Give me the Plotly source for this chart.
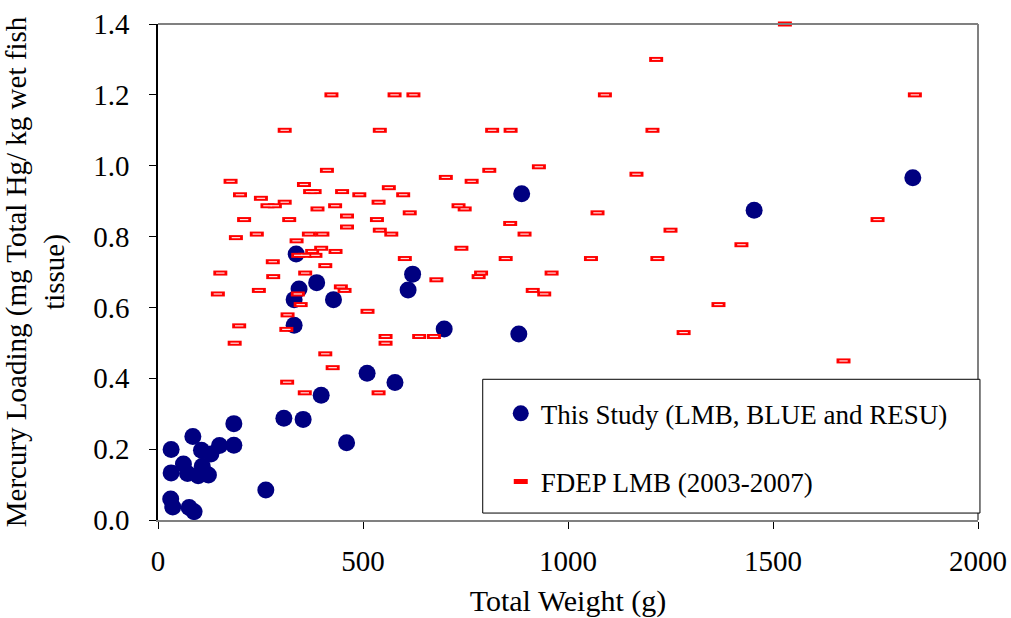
import plotly.graph_objects as go

# ---- Data: This Study (LMB, BLUE and RESU) ----
study_weight = [337, 621, 610, 387, 344, 332, 428, 332, 510, 578, 398, 307, 354, 460,
                185, 185, 85, 32, 150, 106, 129, 32, 62, 72, 98, 108, 123, 263,
                31, 36, 76, 88, 698, 880, 887, 1454, 1841]
study_hg = [0.751, 0.694, 0.649, 0.670, 0.652, 0.622, 0.622, 0.550, 0.414, 0.388, 0.352,
            0.287, 0.284, 0.218, 0.272, 0.211, 0.236, 0.199, 0.210, 0.197, 0.186, 0.133,
            0.158, 0.131, 0.125, 0.152, 0.127, 0.085, 0.059, 0.037, 0.035, 0.023, 0.539,
            0.525, 0.921, 0.874, 0.966]

# ---- Data: FDEP LMB (2003-2007) ----
fdep_weight = [423, 577, 623, 309, 541, 412, 177, 356, 371, 382, 449, 491, 563, 598, 200,
               251, 267, 285, 309, 389, 432, 538, 461, 534, 614, 210, 320, 461, 541, 569,
               241, 368, 401, 190, 338, 398, 376, 433, 342, 359, 384, 280, 408, 602,
               152, 281, 359, 146, 246, 446, 455, 341, 348, 511, 316, 198, 313, 187, 555,
               555, 637, 673, 408, 426, 315, 358, 538,
               679, 782, 788, 960, 914, 942, 1282,
               1215, 1090, 815, 860, 1206, 929, 808, 702, 765, 1167, 733, 748, 1072, 859,
               894, 1250, 740, 848, 1056, 1218,
               1529, 1846, 1755, 1423, 1367, 1672]
fdep_hg = [1.20, 1.20, 1.20, 1.10, 1.10, 0.987, 0.956, 0.947, 0.927, 0.927, 0.927, 0.918,
           0.938, 0.918, 0.918, 0.908, 0.887, 0.887, 0.897, 0.878, 0.887, 0.897, 0.858,
           0.848, 0.867, 0.848, 0.848, 0.827, 0.818, 0.807, 0.807, 0.807, 0.807, 0.797,
           0.788, 0.767, 0.758, 0.758, 0.747, 0.747, 0.747, 0.729, 0.718, 0.738,
           0.697, 0.687, 0.697, 0.638, 0.648, 0.658, 0.648, 0.638, 0.608, 0.589, 0.579,
           0.548, 0.538, 0.499, 0.518, 0.499, 0.518, 0.518, 0.469, 0.430, 0.389, 0.359,
           0.359,
           0.678, 0.687, 0.697, 0.697, 0.648, 0.638, 0.529,
           1.30, 1.20, 1.10, 1.10, 1.10, 0.997, 0.987, 0.967, 0.956, 0.976, 0.887, 0.878,
           0.867, 0.837, 0.807, 0.818, 0.767, 0.738, 0.738, 0.738,
           1.40, 1.20, 0.848, 0.777, 0.608, 0.449]

FONT = "Liberation Serif, Times New Roman, serif"

fig = go.Figure()

fig.add_trace(go.Scatter(
    x=study_weight, y=study_hg, mode="markers",
    name="This Study (LMB, BLUE and RESU)", legendgroup="a",
    marker=dict(symbol="circle", size=17, color="#000080", line=dict(width=0)),
    cliponaxis=False,
))
fig.add_trace(go.Scatter(
    x=fdep_weight, y=fdep_hg, mode="markers",
    name="FDEP LMB (2003-2007)", legendgroup="b",
    marker=dict(symbol="line-ew", size=10, color="#FF0000",
                line=dict(width=5, color="#FF0000")),
    cliponaxis=False,
))
fig.add_trace(go.Scatter(
    x=fdep_weight, y=fdep_hg, mode="markers",
    name="FDEP LMB inner", legendgroup="b", showlegend=False,
    marker=dict(symbol="line-ew", size=6, color="#FFFFFF",
                line=dict(width=1.2, color="#FFE0E0")),
    cliponaxis=False, hoverinfo="skip",
))

# plot-area frame (top / right, gray) and legend box
fig.add_shape(type="line", xref="paper", yref="paper", x0=0, x1=1, y0=1, y1=1,
              line=dict(color="#808080", width=2))
fig.add_shape(type="line", xref="paper", yref="paper", x0=1, x1=1, y0=0, y1=1,
              line=dict(color="#808080", width=2))
fig.add_shape(type="rect", xref="paper", yref="paper", x0=0.396, x1=1.0024,
              y0=0.014, y1=0.2837, line=dict(color="#000000", width=1),
              fillcolor="white", layer="above")

fig.update_layout(
    width=1011, height=618,
    margin=dict(l=158, r=33, t=24, b=98, autoexpand=False),
    paper_bgcolor="white", plot_bgcolor="white",
    font=dict(family=FONT, color="black"),
    showlegend=True,
    legend=dict(
        x=0.418, xanchor="left", y=0.2636, yanchor="top",
        bgcolor="rgba(0,0,0,0)", borderwidth=0,
        font=dict(family=FONT, size=27, color="black"),
        traceorder="grouped", tracegroupgap=30,
    ),
    xaxis=dict(
        range=[0, 2000], tickvals=[0, 500, 1000, 1500, 2000],
        ticks="outside", ticklen=7, tickcolor="black", tickwidth=1,
        showline=True, linecolor="#808080", linewidth=2,
        showgrid=False, zeroline=False, automargin=False,
        tickfont=dict(family=FONT, size=29, color="black"),
        ticklabelstandoff=7,
        title=dict(text="Total Weight (g)", font=dict(family=FONT, size=30, color="black"),
                   standoff=25),
    ),
    yaxis=dict(
        range=[0, 1.4], tickvals=[0, 0.2, 0.4, 0.6, 0.8, 1.0, 1.2, 1.4], tickformat=".1f",
        ticks="outside", ticklen=7, tickcolor="black", tickwidth=1,
        showline=True, linecolor="black", linewidth=1.5,
        showgrid=False, zeroline=False, automargin=False,
        tickfont=dict(family=FONT, size=29, color="black"),
        ticklabelstandoff=14,
        title=dict(text="Mercury Loading (mg Total Hg/ kg wet fish<br>tissue)",
                   font=dict(family=FONT, size=29, color="black"), standoff=20),
    ),
)

fig.write_html("out.html")
